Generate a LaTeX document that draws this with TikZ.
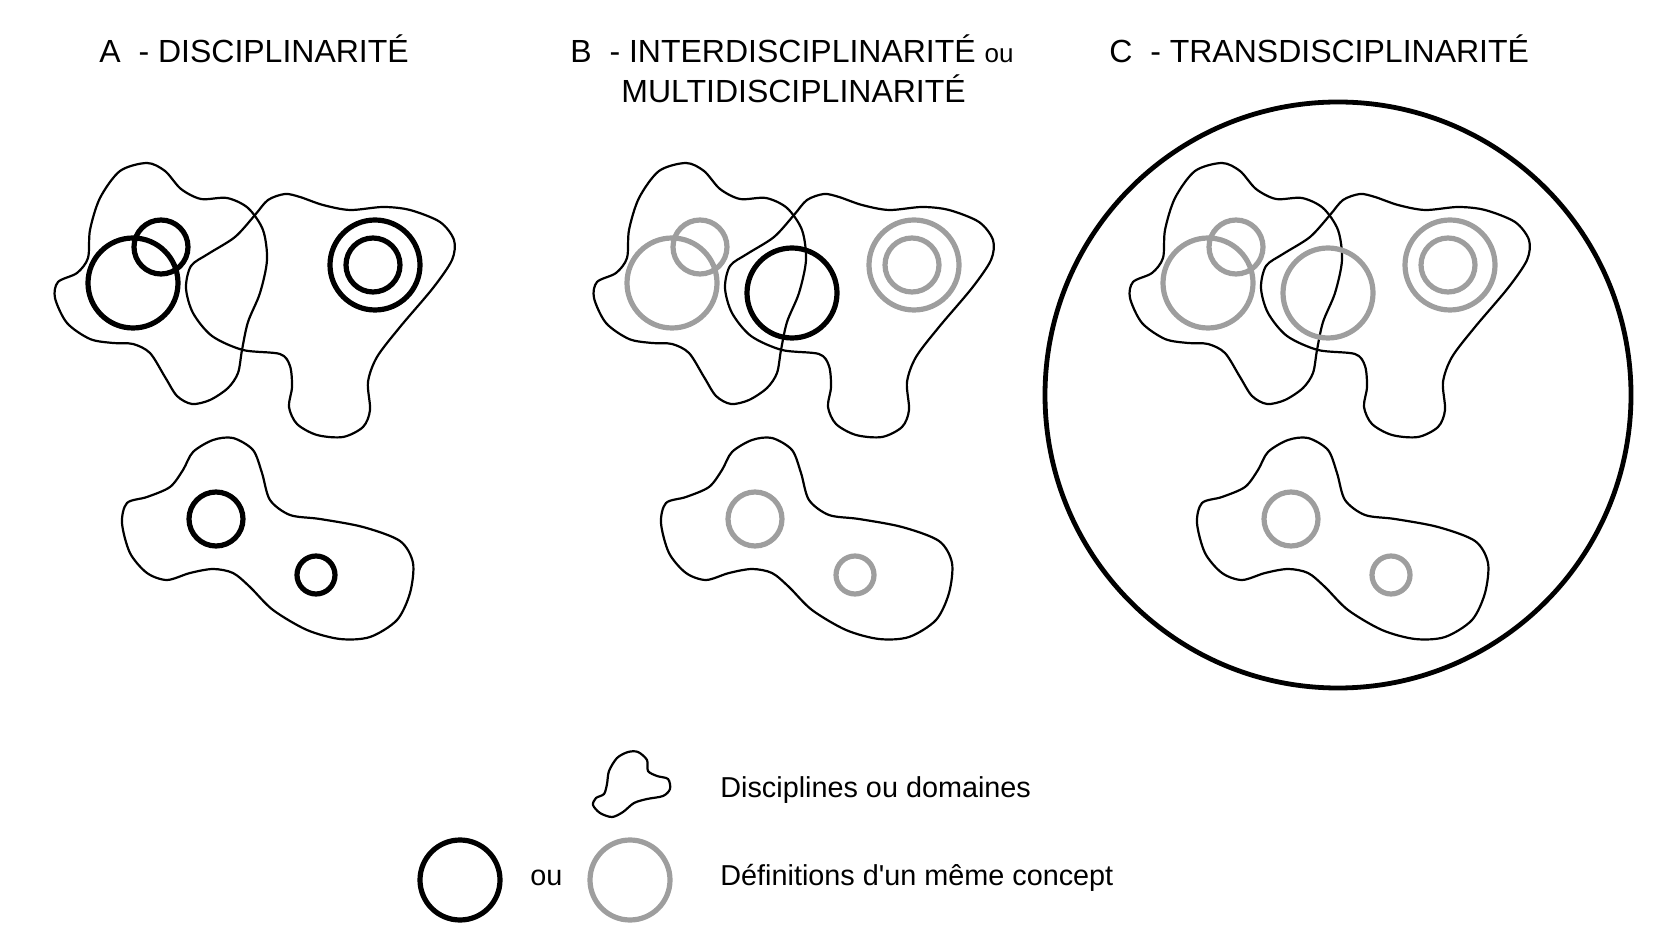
\documentclass[tikz,border=0pt]{standalone}
\usepackage{fontspec}
\newfontfamily\roboto{Liberation Sans}
\definecolor{gristrait}{RGB}{158,158,158}

\tikzset{
  domaine/.style={draw, line width=1.1pt, line join=round},
  defnoir/.style={draw=black, line width=2.6pt},
  defgris/.style={draw=gristrait, line width=2.6pt},
  titre/.style={anchor=base west, inner sep=0pt, font=\roboto\fontsize{16}{19}\selectfont},
  legende/.style={anchor=base west, inner sep=0pt, font=\roboto\fontsize{14.4}{17}\selectfont},
}

% les trois domaines d'un panneau
\newcommand{\domaines}{%
  \draw[domaine] plot[smooth cycle] coordinates {(147,163) (165,171) (181,189) (201,199) (227,198) (248,208) (263,230) (267,260) (260,293) (248,322) (242,350) (238,373) (228,388) (210,400) (192,404) (177,396) (165,377) (150,353) (133,344) (113,343) (90,339) (67,323) (55,298) (58,282) (77,273) (88,258) (90,230) (100,198) (120,171)};
  \draw[domaine] plot[smooth cycle] coordinates {(285,194) (268,200) (255,215) (235,237) (208,254) (191,266) (186,288) (193,313) (212,336) (243,350) (280,354) (290,366) (292,387) (289,407) (297,424) (317,435) (343,437) (363,427) (370,410) (368,382) (377,357) (400,327) (433,288) (452,260) (454,240) (440,222) (410,210) (383,207) (350,210) (323,205) (300,197)};
  \draw[domaine] plot[smooth cycle] coordinates {(233,438) (253,450) (262,473) (270,500) (290,515) (320,519) (363,527) (400,541) (413,563) (410,593) (397,620) (370,637) (340,639) (307,630) (273,610) (250,587) (233,573) (213,569) (190,573) (167,580) (147,573) (130,553) (122,523) (127,503) (147,497) (170,487) (183,470) (193,452) (213,440)};
}
% les definitions d'un meme concept
\newcommand{\definitions}[1]{%
  \draw[#1] (133,283) circle (45);
  \draw[#1] (161,247) circle (27);
  \draw[#1] (375,265) circle (45);
  \draw[#1] (373,265) circle (27);
  \draw[#1] (216,519) circle (27);
  \draw[#1] (316,575) circle (19);
}

\begin{document}
\begin{tikzpicture}[x=0.5pt, y=-0.5pt]
\useasboundingbox (0,0) rectangle (1680,945);

% titres
\node[titre] (titreA) at (99,63) {A\ \ - DISCIPLINARITÉ};
\node[titre] (titreB) at (570,63) {B\ \ - INTERDISCIPLINARITÉ {\fontsize{13}{15}\selectfont ou}};
\node[titre] (titreBbis) at (621,103) {MULTIDISCIPLINARITÉ};
\node[titre] (titreC) at (1109,63) {C\ \ - TRANSDISCIPLINARITÉ};

% A - disciplinarite
\domaines
\definitions{defnoir}

% B - interdisciplinarite
\begin{scope}[shift={(539,0)}]
\domaines
\definitions{defgris}
\draw[defnoir] (253,293) circle (45);
\end{scope}

% C - transdisciplinarite
\begin{scope}[shift={(1075,0)}]
\domaines
\definitions{defgris}
\draw[defgris] (253,293) circle (45);
\end{scope}
\draw[black, line width=2.4pt] (1338,395) circle (293);

% legende
\draw[domaine] plot[smooth cycle] coordinates {(638,752) (647,760) (648,771) (657,776) (668,779) (670,789) (663,796) (647,799) (634,803) (623,812) (612,817) (600,813) (593,805) (596,798) (604,794) (607,784) (609,771) (617,758) (628,752)};
\node[legende] (domlabel) at (720,797) {Disciplines ou domaines};
\draw[defnoir] (460,880) circle (40);
\node[legende] (ou) at (530,885) {ou};
\draw[defgris] (630,880) circle (40);
\node[legende] (deflabel) at (720,885) {Définitions d'un même concept};
\end{tikzpicture}
\end{document}
